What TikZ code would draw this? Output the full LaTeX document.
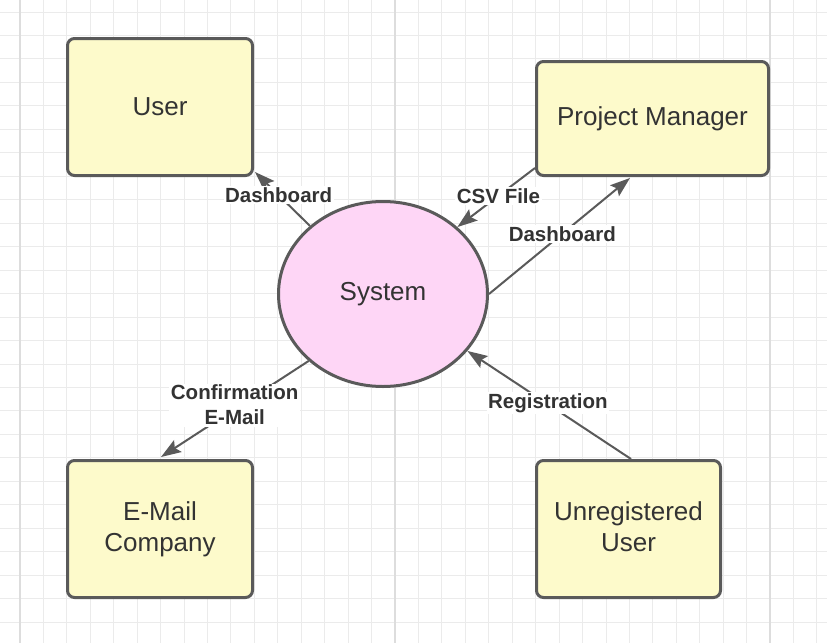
\documentclass[tikz,border=0pt]{standalone}
\usepackage{fontspec}
\setmainfont{Liberation Sans}
\usetikzlibrary{arrows.meta,calc,shapes.geometric}
\definecolor{boxfill}{HTML}{FDFACB}
\definecolor{pinkfill}{HTML}{FED6F6}
\definecolor{edgec}{HTML}{5A5A5A}
\definecolor{txt}{HTML}{333333}
\definecolor{gridminor}{HTML}{EBEBEB}
\definecolor{gridmajor}{HTML}{DDDDDD}
\begin{document}
\begin{tikzpicture}[x=1pt,y=-1pt,
  entity/.style={draw=edgec, line width=3pt, fill=boxfill, rounded corners=7pt,
    inner sep=0pt, align=center, text=txt, font=\fontsize{26}{31}\selectfont},
  proc/.style={ellipse, draw=edgec, line width=3pt, fill=pinkfill, inner sep=0pt,
    minimum width=209pt, minimum height=185pt, text=txt, font=\fontsize{26}{31}\selectfont},
  flow/.style={draw=edgec, line width=2pt, -{Stealth[length=20pt,width=14pt,inset=3.5pt]}},
  lbl/.style={fill=white, text=txt, font=\bfseries\fontsize{20.5}{25}\selectfont,
    inner sep=1.5pt, align=center},
  gminor/.style={draw=gridminor, line width=1pt},
  gmajor/.style={draw=gridmajor, line width=2pt}]
\useasboundingbox[fill=white] (0,0) rectangle (827,643);
% grid
\foreach \i in {0,...,34} \draw[gminor] ({20+23.44*\i},0) -- ({20+23.44*\i},643);
\foreach \j in {0,...,27} \draw[gminor] (0,{12+23.47*\j}) -- (827,{12+23.47*\j});
\foreach \x in {20,395,770} \draw[gmajor] (\x,0) -- (\x,643);
% nodes
\node[entity, minimum width=185pt, minimum height=137pt] (user) at (160,107) {User};
\node[entity, minimum width=232pt, minimum height=114pt] (pm) at (652.5,118.5) {Project Manager};
\node[entity, minimum width=185pt, minimum height=137pt] (em) at (160,529) {E-Mail\\Company};
\node[entity, minimum width=184pt, minimum height=137pt] (ur) at (628.5,529) {Unregistered\\User\vphantom{g}};
\node[proc] (sys) at (383,294) {System};
% connectors
\draw[flow] (sys.137.8) -- node[lbl, pos=0.57]{Dashboard} ($(user.south east)+(1,-5)$);
\draw[flow] ($(pm.south west)+(0,-9)$) -- node[lbl, pos=0.47]{CSV File} (sys.42);
\draw[flow] (sys.east) -- node[lbl, pos=0.52]{Dashboard} ($(pm.south west)+(95,1)$);
\draw[flow] (sys.222.6) -- node[lbl, pos=0.46, xshift=-6pt]{Confirmation\\E-Mail} ($(em.north)+(1,-2)$);
\draw[flow] ($(ur.north)+(2.5,0)$) -- node[lbl, pos=0.52, xshift=2pt]{Registration} (sys.-34.3);
\end{tikzpicture}
\end{document}
